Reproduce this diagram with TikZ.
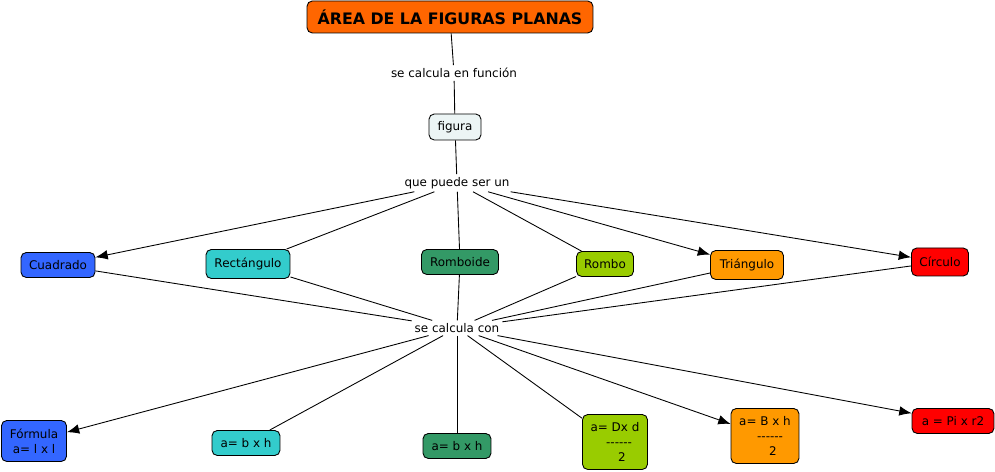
\documentclass[tikz,border=0pt]{standalone}
\usepackage{fontspec}
\setmainfont{DejaVu Sans}
\usetikzlibrary{arrows.meta}

\definecolor{titleorange}{HTML}{FF6600}
\definecolor{figpale}{HTML}{ECF5F5}
\definecolor{cblue}{HTML}{3366FF}
\definecolor{cteal}{HTML}{33CCCC}
\definecolor{cgreen}{HTML}{339966}
\definecolor{colive}{HTML}{99CC00}
\definecolor{corange}{HTML}{FF9900}
\definecolor{cred}{HTML}{FF0000}

\newcommand{\fracbar}{-{}-{}-{}-{}-{}-}

\begin{document}
\begin{tikzpicture}[
  x=0.02cm, y=-0.02cm,
  box/.style={draw, rounded corners=3pt, align=center, inner sep=1pt,
              line width=0.5pt, font=\fontsize{6.8}{8.6}\selectfont},
  lbl/.style={inner sep=1.5pt, font=\fontsize{6.8}{8}\selectfont},
  arr/.style={-{Latex[length=7pt,width=5.5pt]}, line width=0.5pt},
  ln/.style={line width=0.5pt}
]
  \useasboundingbox (0,0) rectangle (995,472);

  % Top
  \node[box, fill=titleorange, minimum width=5.72cm, minimum height=0.64cm,
        font=\fontsize{9}{11}\bfseries] (title) at (450,17) {ÁREA DE LA FIGURAS PLANAS};
  \node[lbl] (calcfun) at (454,73) {se calcula en función};
  \node[box, fill=figpale, minimum width=1.04cm, minimum height=0.52cm] (figura) at (455,127) {figura};
  \node[lbl] (puede) at (457,183) {que puede ser un};

  \draw[ln](title)--(calcfun);
  \draw[ln](calcfun)--(figura);
  \draw[ln](figura)--(puede);

  % Figures
  \node[box, fill=cblue, minimum width=1.48cm, minimum height=0.5cm] (cuad) at (58,265) {Cuadrado};
  \node[box, fill=cteal, minimum width=1.68cm, minimum height=0.58cm] (rect) at (248,264) {Rectángulo};
  \node[box, fill=cgreen, minimum width=1.54cm, minimum height=0.5cm] (romboide) at (460,262) {Romboide};
  \node[box, fill=colive, minimum width=1.14cm, minimum height=0.5cm] (rombo) at (605,264) {Rombo};
  \node[box, fill=corange, minimum width=1.46cm, minimum height=0.58cm] (tri) at (747,265) {Triángulo};
  \node[box, fill=cred, minimum width=1.14cm, minimum height=0.56cm] (circ) at (940,262) {Círculo};

  \draw[arr](puede)--(cuad);
  \draw[ln](puede)--(rect);
  \draw[ln](puede)--(romboide);
  \draw[ln](puede)--(rombo);
  \draw[arr](puede)--(tri);
  \draw[arr](puede)--(circ);

  \node[lbl] (calccon) at (457,328) {se calcula con};

  \foreach \n in {cuad,rect,romboide,rombo,tri,circ}
    \draw[ln](\n)--(calccon);

  % Formulas
  \node[box, fill=cblue, minimum width=1.3cm, minimum height=0.82cm] (fcuad) at (34,441) {Fórmula\\a= l x l};
  \node[box, fill=cteal, minimum width=1.36cm, minimum height=0.5cm] (frect) at (246,443) {a= b x h};
  \node[box, fill=cgreen, minimum width=1.36cm, minimum height=0.5cm] (fromboide) at (457,446) {a= b x h};
  \node[box, fill=colive, minimum width=1.3cm, minimum height=1.1cm, align=left] (frombo) at (615,442)
       {a= Dx d\\\hspace*{1.3em}\fracbar\\\hspace*{2.3em}2};
  \node[box, fill=corange, minimum width=1.36cm, minimum height=1.1cm, align=left] (ftri) at (765,436)
       {a= B x h\\\hspace*{1.5em}\fracbar\\\hspace*{2.5em}2};
  \node[box, fill=cred, minimum width=1.64cm, minimum height=0.5cm] (fcirc) at (953,421) {a = Pi x r2};

  \draw[arr](calccon)--(fcuad);
  \draw[ln](calccon)--(frect);
  \draw[ln](calccon)--(fromboide);
  \draw[ln](calccon)--(frombo);
  \draw[arr](calccon)--(ftri);
  \draw[arr](calccon)--(fcirc);
\end{tikzpicture}
\end{document}
